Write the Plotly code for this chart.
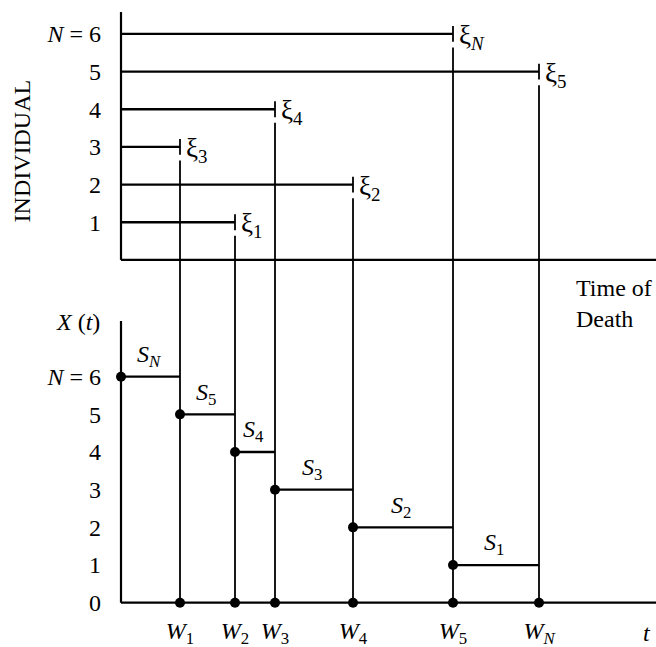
import plotly.graph_objects as go

# ---- data ----
individuals = [1, 2, 3, 4, 5, 6]
individual_labels = ["1", "2", "3", "4", "5", "<i>N</i> = 6"]
death_times = [11.4, 23.2, 5.9, 15.4, 41.8, 33.2]
xi_labels = ["ξ<sub>1</sub>", "ξ<sub>2</sub>", "ξ<sub>3</sub>", "ξ<sub>4</sub>",
             "ξ<sub>5</sub>", "ξ<sub><i>N</i></sub>"]
count_levels = [6, 5, 4, 3, 2, 1]
count_labels = ["0", "1", "2", "3", "4", "5", "<i>N</i> = 6"]
w_labels = ["<i>W</i><sub>1</sub>", "<i>W</i><sub>2</sub>", "<i>W</i><sub>3</sub>",
            "<i>W</i><sub>4</sub>", "<i>W</i><sub>5</sub>", "<i>W</i><sub><i>N</i></sub>"]
s_labels = ["<i>S</i><sub><i>N</i></sub>", "<i>S</i><sub>5</sub>", "<i>S</i><sub>4</sub>",
            "<i>S</i><sub>3</sub>", "<i>S</i><sub>2</sub>", "<i>S</i><sub>1</sub>"]

# ---- layout constants ----
OFF = 9.1          # vertical offset of upper (individual) panel
FONT = "Liberation Serif, Times New Roman, serif"
FS = 24
XMIN, XMAX = -1, 53.5
YMIN, YMAX = -0.3, 16.0

fig = go.Figure()

# upper panel: lifelines, end ticks, drop lines
hx, hy, tx, ty, dx, dy = [], [], [], [], [], []
for ind, t in zip(individuals, death_times):
    r = OFF + ind
    hx += [0, t, None]; hy += [r, r, None]
    tx += [t, t, None]; ty += [r - 0.21, r + 0.21, None]
    dx += [t, t, None]; dy += [r - 0.36, 0, None]

fig.add_trace(go.Scatter(x=hx, y=hy, mode="lines", line=dict(color="black", width=2.3), hoverinfo="skip"))
fig.add_trace(go.Scatter(x=tx, y=ty, mode="lines", line=dict(color="black", width=1.8), hoverinfo="skip"))
fig.add_trace(go.Scatter(x=dx, y=dy, mode="lines", line=dict(color="black", width=1.8), hoverinfo="skip"))

# lower panel: step function X(t)
W = sorted(death_times)
starts = [0] + W[:-1]
sx, sy = [], []
for a, b, lev in zip(starts, W, count_levels):
    sx += [a, b, None]; sy += [lev, lev, None]
fig.add_trace(go.Scatter(x=sx, y=sy, mode="lines", line=dict(color="black", width=2.3), hoverinfo="skip"))
fig.add_trace(go.Scatter(x=starts + W, y=count_levels + [0] * len(W), mode="markers",
                         marker=dict(color="black", size=10), cliponaxis=False, hoverinfo="skip"))

# axis lines
shapes = [
    dict(type="line", x0=0, x1=0, y0=OFF, y1=15.68),
    dict(type="line", x0=0, x1=XMAX, y0=OFF, y1=OFF),
    dict(type="line", x0=0, x1=0, y0=0, y1=7.48),
    dict(type="line", x0=0, x1=XMAX, y0=0, y1=0),
]
for s in shapes:
    s.update(xref="x", yref="y", line=dict(color="black", width=2.2), layer="below")

txt = dict(family=FONT, size=FS, color="black")
xi_txt = dict(family=FONT, size=27, color="black")
annotations = []
for ind, t, lab in zip(individuals, death_times, xi_labels):
    annotations.append(dict(x=t + 0.35, y=OFF + ind - 0.08, text=lab, xanchor="left", yanchor="middle",
                            showarrow=False, font=xi_txt))
for a, b, lev, lab in zip(starts, W, count_levels, s_labels):
    annotations.append(dict(x=(a + b) / 2 - 0.2, y=lev + 0.55, text=lab, xanchor="center", yanchor="middle",
                            showarrow=False, font=txt))
annotations += [
    dict(x=XMIN, y=7.45, xshift=-9, text="<i>X</i> (<i>t</i>)", xanchor="right", yanchor="middle",
         showarrow=False, font=txt),
    dict(x=XMIN, y=11.98, xshift=-89, text="INDIVIDUAL", textangle=-90, xanchor="center", yanchor="middle",
         showarrow=False, font=txt),
    dict(x=45.6, y=7.93, xshift=-3, text="Time of<br>Death", xanchor="left", yanchor="middle", align="left",
         showarrow=False, font=txt),
    dict(x=52.6, y=YMIN, yshift=-19, text="<i>t</i>", xanchor="center", yanchor="middle", showarrow=False,
         font=txt),
]

fig.update_layout(
    width=656, height=647,
    margin=dict(l=111, r=0, t=0, b=33),
    plot_bgcolor="white", paper_bgcolor="white",
    showlegend=False,
    shapes=shapes, annotations=annotations,
    font=txt,
)
fig.update_xaxes(range=[XMIN, XMAX], showgrid=False, zeroline=False, showline=False, automargin=False,
                 tickmode="array", tickvals=W, ticktext=w_labels, ticks="",
                 ticklabelstandoff=0, tickfont=txt)
fig.update_yaxes(range=[YMIN, YMAX], showgrid=False, zeroline=False, showline=False, automargin=False,
                 tickmode="array",
                 tickvals=list(range(0, 7)) + [OFF + i for i in individuals],
                 ticktext=count_labels + individual_labels, ticks="",
                 ticklabelstandoff=9, tickfont=txt)

fig.write_html("out.html", config={"displayModeBar": False},
               post_script="document.body.style.margin='0';document.body.style.overflow='hidden';")
